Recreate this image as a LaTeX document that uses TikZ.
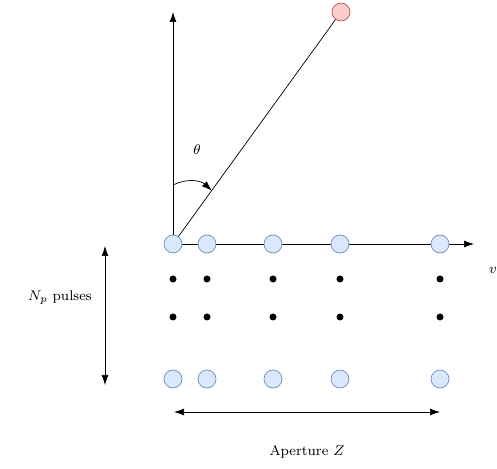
\documentclass[tikz,border=0pt]{standalone}
\usepackage{tikz}
\usetikzlibrary{arrows.meta,backgrounds,calc}
\definecolor{elemblue}{HTML}{DAE8FC}
\definecolor{elemborder}{HTML}{6C8EBF}
\definecolor{targetred}{HTML}{F8CECC}
\definecolor{targetborder}{HTML}{B85450}
\tikzset{
  element/.style={
    circle,
    draw=elemborder,
    fill=elemblue,
    minimum size=0.36cm,
    inner sep=0pt
  },
  target/.style={
    element,
    draw=targetborder,
    fill=targetred
  },
  pulsedot/.style={
    circle,
    fill=black,
    minimum size=0.14cm,
    inner sep=0pt
  },
  axisarrow/.style={
    -{Latex[length=2mm,width=1.4mm]},
    thin
  },
  spanarrow/.style={
    {Latex[length=2mm,width=1.4mm]}-{Latex[length=2mm,width=1.4mm]},
    thin
  }
}

\begin{document}
\begin{tikzpicture}[font=\footnotesize]
    \useasboundingbox (0,0) rectangle (9.94,9.36);

    % array elements, first and last pulse
    \foreach \x [count=\i] in {3.46,4.14,5.46,6.80,8.80} {
        \node[element] (top\i) at (\x,4.48) {};
        \node[pulsedot] (dotA\i) at (\x,3.78) {};
        \node[pulsedot] (dotB\i) at (\x,3.02) {};
        \node[element] (bot\i) at (\x,1.78) {};
    }
    \node[target] (tgt) at (6.82,9.12) {};

    \coordinate (yend) at (3.46,9.12);
    \coordinate (xend) at (9.48,4.48);
    \coordinate (arcstart) at (3.46,5.66);
    \coordinate (arcend) at ($(top1.center)!0.23!(tgt.center)$);

    \begin{scope}[on background layer]
        \draw[axisarrow] (top1.center) -- (xend);
    \end{scope}
    \draw[axisarrow] (top1) -- (yend);
    \draw (top1) -- (tgt);
    \draw[axisarrow] (arcstart) to[bend left=35] (arcend);

    \coordinate (pulsetop) at (2.10,4.44);
    \coordinate (pulsebot) at (2.10,1.66);
    \draw[spanarrow] (pulsetop) -- (pulsebot);
    \coordinate (apleft) at (3.48,1.12);
    \coordinate (apright) at (8.80,1.12);
    \draw[spanarrow] (apleft) -- (apright);

    \node (theta) at (3.94,6.36) {$\theta$};
    \node (pulses) at (1.20,3.40) {$N_p$ pulses};
    \node (aperture) at (6.14,0.32) {Aperture $Z$};
    \node (vel) at (9.86,3.96) {$v$};
\end{tikzpicture}
\end{document}
